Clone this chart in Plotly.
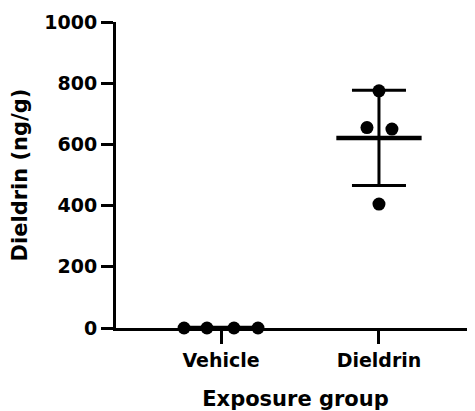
import numpy as np
import plotly.graph_objects as go

# ---- data ----
groups = ["Vehicle", "Dieldrin"]
vehicle_values = [0, 0, 0, 0]
dieldrin_values = [775, 655, 650, 405]
y_ticks = [0, 200, 400, 600, 800, 1000]
x_title = "Exposure group"
y_title = "Dieldrin (ng/g)"

# ---- style / layout constants ----
FONT = "DejaVu Sans"
jitter = {"Vehicle": [-0.234, -0.089, 0.082, 0.234],
          "Dieldrin": [0.0, -0.076, 0.082, 0.0]}
series = {"Vehicle": vehicle_values, "Dieldrin": dieldrin_values}

fig = go.Figure()

for gi, g in enumerate(groups):
    vals = np.array(series[g], dtype=float)
    mean = vals.mean()
    sd = vals.std(ddof=1)
    # error bar (SD) with caps
    fig.add_trace(go.Scatter(
        x=[gi], y=[mean], mode="markers",
        marker=dict(size=1, color="rgba(0,0,0,0)"),
        error_y=dict(type="data", array=[sd], visible=True,
                     color="black", thickness=3, width=27),
        showlegend=False, hoverinfo="skip", cliponaxis=False))
    # mean line
    fig.add_trace(go.Scatter(
        x=[gi - 0.27, gi + 0.27], y=[mean, mean], mode="lines",
        line=dict(color="black", width=4.5),
        showlegend=False, hoverinfo="skip", cliponaxis=False))
    # points
    fig.add_trace(go.Scatter(
        x=[gi + o for o in jitter[g]], y=vals, mode="markers",
        marker=dict(size=13, color="black"),
        showlegend=False, cliponaxis=False))

fig.update_layout(
    width=467, height=403,
    margin=dict(l=108, r=0, t=14, b=83),
    paper_bgcolor="white", plot_bgcolor="white",
    font=dict(family=FONT, color="black", size=19),
    xaxis=dict(
        range=[-0.665, 1.608], tickmode="array", tickvals=[0, 1],
        ticktext=groups, showline=True, linecolor="black", linewidth=3,
        ticks="outside", ticklen=13, tickwidth=2.5, tickcolor="black",
        showgrid=False, zeroline=False,
        tickfont=dict(family=FONT, size=19, color="black", weight="bold"),
        title=dict(text=x_title, standoff=22,
                   font=dict(family=FONT, size=21, color="black", weight="bold")),
    ),
    yaxis=dict(
        range=[0, 1000], tickmode="array", tickvals=y_ticks,
        showline=True, linecolor="black", linewidth=3,
        ticks="outside", ticklen=12, tickwidth=3, tickcolor="black",
        showgrid=False, zeroline=False,
        tickfont=dict(family=FONT, size=19, color="black", weight="bold"),
        title=dict(text=y_title, standoff=12,
                   font=dict(family=FONT, size=21, color="black", weight="bold")),
    ),
)

fig.write_html("out.html")
